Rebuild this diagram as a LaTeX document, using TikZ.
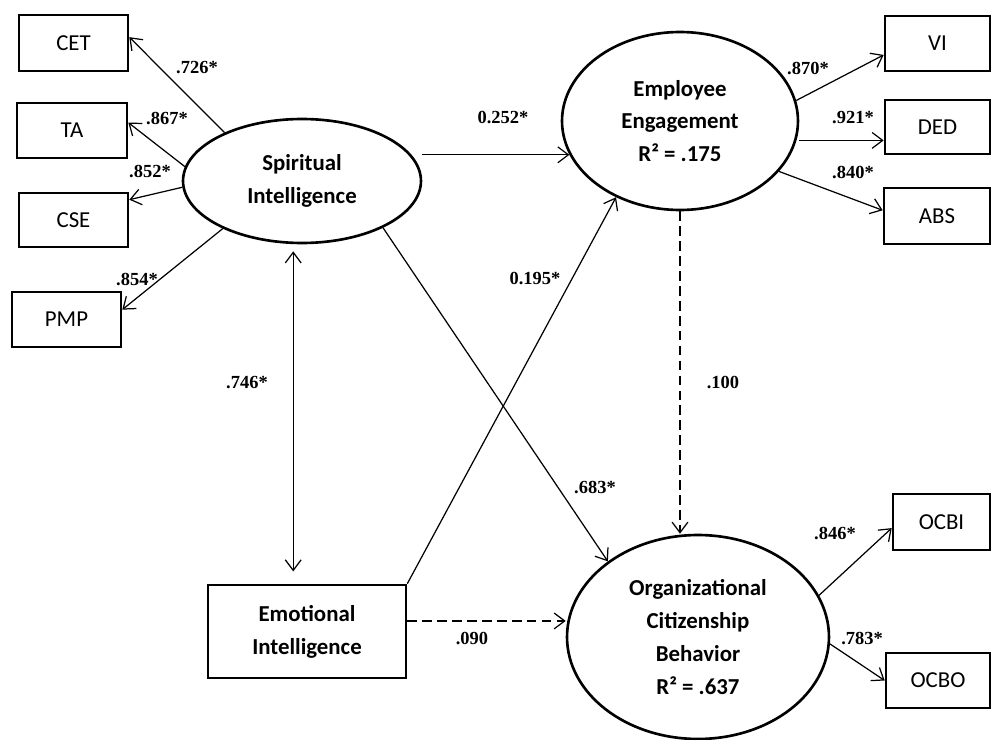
\documentclass[tikz,border=0pt]{standalone}
\usepackage{fontspec}
\setmainfont{Carlito}
\newfontfamily\coeffont{Liberation Serif}
\usetikzlibrary{shapes.geometric, arrows.meta}

\begin{document}
\begin{tikzpicture}[x=0.02cm, y=-0.02cm,
    latent/.style={ellipse, draw, line width=1.5pt, inner sep=0pt, align=center,
                   font=\bfseries\fontsize{13}{18.7}\selectfont},
    obs/.style={rectangle, draw, line width=1.5pt, inner sep=0pt, align=center,
                font=\fontsize{13}{16}\selectfont},
    path/.style={-{Straight Barb[length=6pt,width=9pt]}, line width=0.7pt},
    bpath/.style={path, {Straight Barb[length=6pt,width=9pt]}-{Straight Barb[length=6pt,width=9pt]}},
    dpath/.style={path, dash pattern=on 5.5pt off 3pt},
    coef/.style={font=\coeffont\bfseries\fontsize{10.5}{12}\selectfont, inner sep=0pt}]
  \useasboundingbox (0,0) rectangle (992,740);

  % latent variables
  \node[latent, minimum width=4.76cm, minimum height=2.48cm] (si) at (302,181)
    {Spiritual\\Intelligence};
  \node[latent, minimum width=4.72cm, minimum height=3.56cm] (ee) at (680,121)
    {Employee\\Engagement\\R² = .175};
  \node[latent, minimum width=5.24cm, minimum height=4.08cm] (ocb) at (698,637)
    {Organizational\\Citizenship\\Behavior\\R² = .637};
  \node[obs, minimum width=3.96cm, minimum height=1.86cm, font=\bfseries\fontsize{13}{18.7}\selectfont]
    (ei) at (307,631.5) {Emotional\\Intelligence};

  % indicators
  \node[obs, minimum width=2.18cm, minimum height=1.12cm] (cet)  at (73.5,43)   {CET};
  \node[obs, minimum width=2.2cm,  minimum height=1.1cm]  (ta)   at (72,130.5)  {TA};
  \node[obs, minimum width=2.18cm, minimum height=1.08cm] (cse)  at (73.5,220)  {CSE};
  \node[obs, minimum width=2.18cm, minimum height=1.1cm]  (pmp)  at (66.5,319.5){PMP};
  \node[obs, minimum width=2.1cm,  minimum height=1.1cm]  (vi)   at (937.5,43.5){VI};
  \node[obs, minimum width=2.1cm,  minimum height=1.08cm] (ded)  at (937.5,127) {DED};
  \node[obs, minimum width=2.12cm, minimum height=1.12cm] (ab)   at (937,216)   {ABS};
  \node[obs, minimum width=1.94cm, minimum height=1.12cm] (ocbi) at (941.5,522) {OCBI};
  \node[obs, minimum width=2.08cm, minimum height=1.1cm]  (ocbo) at (938,680.5) {OCBO};

  % loadings
  \draw[path] (si.148) -- (cet.6);
  \draw[path] (si.173) -- (ta.8);
  \draw[path] (si.183) -- (cse.20);
  \draw[path] (si.211) -- (pmp.10);
  \draw[path] (ee.10)  -- (vi.192);
  \draw[path] (ded.194 -| ee.east) -- (ded.194);
  \draw[path] (ee.333) -- (ab.174);
  \draw[path] (ocb.19)  -- (ocbi.187);
  \draw[path] (ocb.357) -- (ocbo.west);

  % structural paths
  \draw[path] (si.east |- ee.197) -- (ee.197);
  \draw[path] (ei.north east) -- (ee.230);
  \draw[path] (si.330) -- (ocb.140);
  \draw[dpath] (ee.south) -- (ee.south |- ocb.north);
  \draw[dpath] (ei.6) -- (ocb.west |- ei.6);
  \coordinate (sib) at ([xshift=-5]si.south);
  \draw[bpath, shorten <=4pt, shorten >=7pt] (sib) -- (sib |- ei.north);

  % coefficients
  \node[coef] (lcet)  at (197,68)  {.726*};
  \node[coef] (lta)   at (167,118) {.867*};
  \node[coef] (lcse)  at (150,171) {.852*};
  \node[coef] (lpmp)  at (137,279) {.854*};
  \node[coef] (lsiee) at (503,117) {0.252*};
  \node[coef] (leiee) at (535,278) {0.195*};
  \node[coef] (lsiei) at (247,383) {.746*};
  \node[coef] (lsioc) at (595,487) {.683*};
  \node[coef] (leeoc) at (723,382) {.100};
  \node[coef] (leioc) at (472,638) {.090};
  \node[coef] (lvi)   at (808,68)  {.870*};
  \node[coef] (lded)  at (853,118) {.921*};
  \node[coef] (lab)   at (853,172) {.840*};
  \node[coef] (locbi) at (835,533) {.846*};
  \node[coef] (locbo) at (862,638) {.783*};
\end{tikzpicture}
\end{document}
